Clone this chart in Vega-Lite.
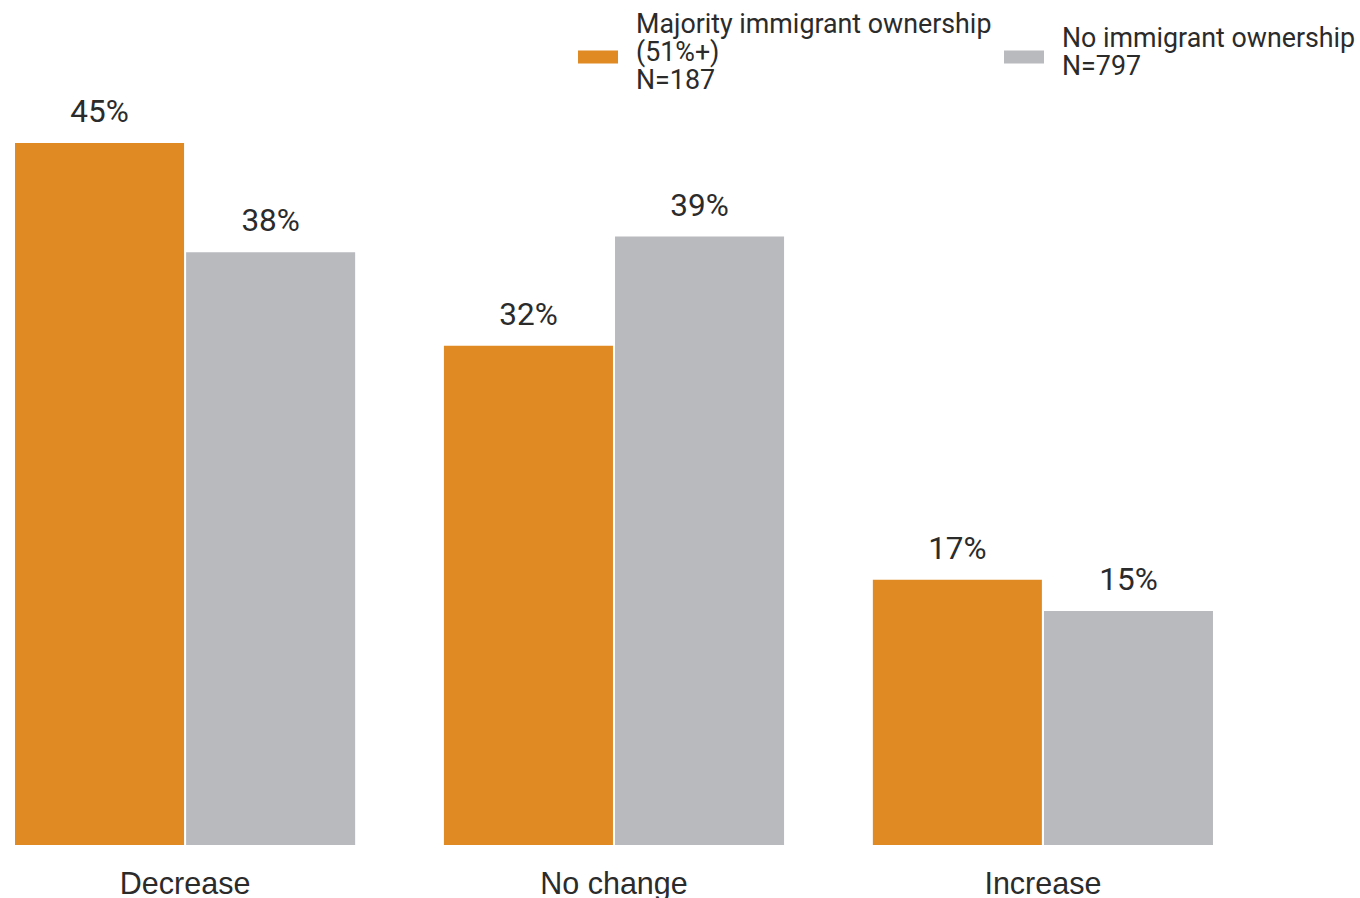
{
  "$schema": "https://vega.github.io/schema/vega-lite/v6.json",
  "autosize": {"type": "none"},
  "width": 1228,
  "height": 780,
  "padding": {"left": 0, "top": 65, "right": 132, "bottom": 53},
  "background": "white",
  "config": {
    "view": {"stroke": null},
    "font": "Roboto",
    "text": {"font": "Roboto"}
  },
  "data": {
    "values": [
      {"change": "Decrease", "group": "Majority immigrant ownership|(51%+)|N=187", "pct": 0.45},
      {"change": "Decrease", "group": "No immigrant ownership|N=797", "pct": 0.38},
      {"change": "No change", "group": "Majority immigrant ownership|(51%+)|N=187", "pct": 0.32},
      {"change": "No change", "group": "No immigrant ownership|N=797", "pct": 0.39},
      {"change": "Increase", "group": "Majority immigrant ownership|(51%+)|N=187", "pct": 0.17},
      {"change": "Increase", "group": "No immigrant ownership|N=797", "pct": 0.15}
    ]
  },
  "encoding": {
    "x": {
      "field": "change",
      "type": "nominal",
      "sort": ["Decrease", "No change", "Increase"],
      "scale": {"paddingInner": 0.207, "paddingOuter": 0.035},
      "axis": {
        "title": null,
        "domain": false,
        "ticks": false,
        "labelAngle": 0,
        "labelFont": "Liberation Sans",
        "labelFontSize": 30.5,
        "labelColor": "#2b2b2b",
        "labelPadding": 24
      }
    },
    "xOffset": {
      "field": "group",
      "type": "nominal",
      "sort": ["Majority immigrant ownership|(51%+)|N=187", "No immigrant ownership|N=797"],
      "scale": {"paddingInner": 0.012}
    },
    "y": {
      "field": "pct",
      "type": "quantitative",
      "scale": {"domain": [0, 0.5], "nice": false},
      "axis": null
    }
  },
  "layer": [
    {
      "mark": {"type": "bar"},
      "encoding": {
        "color": {
          "field": "group",
          "type": "nominal",
          "scale": {
            "domain": ["Majority immigrant ownership|(51%+)|N=187", "No immigrant ownership|N=797"],
            "range": ["#E08A24", "#B9BABE"]
          },
          "legend": {
            "title": null,
            "orient": "none",
            "legendX": 578,
            "legendY": -28,
            "direction": "horizontal",
            "columns": 2,
            "columnPadding": 12,
            "symbolType": "M-1,-0.325H1V0.325H-1Z M0,-3Z M0,3Z",
            "symbolSize": 1600,
            "symbolStrokeWidth": 0,
            "labelOffset": 18,
            "labelFont": "Roboto",
            "labelFontSize": 26.8,
            "labelColor": "#2b2b2b",
            "labelLimit": 600,
            "labelExpr": "split(datum.label, '|')",
            "encoding": {
              "labels": {
                "lineHeight": {"value": 28},
                "dy": {"value": {"expr": "-(length(split(datum.label, '|')) - 1) * 14 - 4.5"}}
              }
            }
          }
        }
      }
    },
    {
      "mark": {
        "type": "text",
        "baseline": "alphabetic",
        "dy": -21,
        "font": "Roboto",
        "fontSize": 31.5,
        "color": "#2b2b2b"
      },
      "encoding": {
        "text": {"field": "pct", "type": "quantitative", "format": ".0%"},
        "detail": {"field": "group"}
      }
    }
  ]
}
